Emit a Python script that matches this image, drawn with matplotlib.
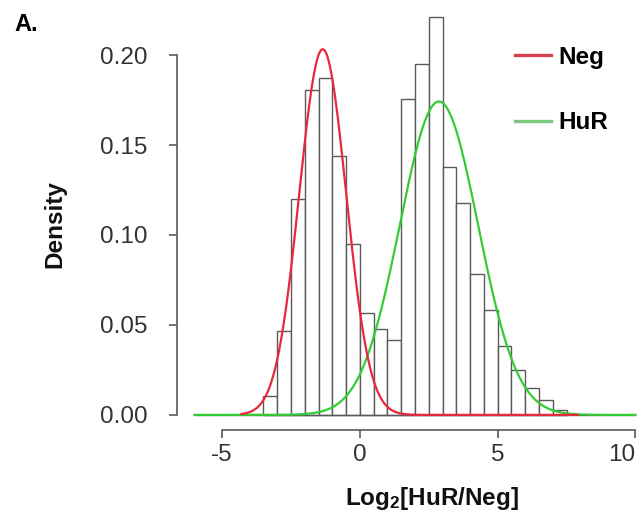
import numpy as np
import matplotlib
matplotlib.use("Agg")
import matplotlib.pyplot as plt
from matplotlib.lines import Line2D

plt.rcParams['font.family'] = ['Liberation Sans', 'DejaVu Sans']
plt.rcParams['mathtext.fontset'] = 'custom'
plt.rcParams['mathtext.rm'] = 'Liberation Sans'
plt.rcParams['mathtext.bf'] = 'Liberation Sans:bold'
plt.rcParams['mathtext.default'] = 'bf'

# histogram of log2 ratios (density, bin width 0.5)
bin_left = [-3.5, -3.0, -2.5, -2.0, -1.5, -1.0, -0.5, 0.0, 0.5, 1.0, 1.5,
            2.0, 2.5, 3.0, 3.5, 4.0, 4.5, 5.0, 5.5, 6.0, 6.5, 7.0]
density = [0.0103, 0.0466, 0.1202, 0.1808, 0.1875, 0.1441, 0.0951, 0.0565,
           0.0477, 0.0419, 0.1758, 0.1948, 0.2214, 0.1376, 0.1176, 0.0783,
           0.0583, 0.0382, 0.0252, 0.0149, 0.0084, 0.0028]
bin_width = 0.5

# fitted normal components: weight, mean, sd
groups = ["Neg", "HuR"]
weights = [0.433, 0.62]
means = [-1.35, 2.87]
sds = [0.85, 1.42]
colors = ["#e8283c", "#33cc33"]
legend_colors = ["#d9434f", "#7cc87c"]
curve_ranges = [(-4.3, 7.9), (-6.0, 10.0)]

fig = plt.figure(figsize=(6.42, 5.21), dpi=100)
ax = fig.add_axes([177 / 642, 91 / 521, 476 / 642, 430 / 521])

ax.bar(bin_left, density, width=bin_width, align="edge",
       facecolor="white", edgecolor="#5a5a5a", linewidth=1.0, zorder=2)
ax.plot([-6, 10], [0, 0], color="#5a5a5a", lw=1.0, zorder=2)

# green first, red on top
for i in [1, 0]:
    xs = np.linspace(curve_ranges[i][0], curve_ranges[i][1], 400)
    ys = weights[i] / (sds[i] * np.sqrt(2 * np.pi)) * np.exp(-0.5 * ((xs - means[i]) / sds[i]) ** 2)
    ax.plot(xs, ys, color=colors[i], lw=1.6, zorder=3)

ax.set_xlim(-6.64, 10.64)
ax.set_ylim(-0.0084, 0.2306)

for s in ["top", "right"]:
    ax.spines[s].set_visible(False)
ax.spines["left"].set_bounds(0, 0.2)
ax.spines["bottom"].set_bounds(-5, 10)
for s in ["left", "bottom"]:
    ax.spines[s].set_color("#5a5a5a")
    ax.spines[s].set_linewidth(1.2)

ax.set_xticks([-5, 0, 5, 10])
ax.set_xticklabels(["-5", "0", "5", "10"])
ax.set_yticks([0, 0.05, 0.10, 0.15, 0.20])
ax.set_yticklabels(["0.00", "0.05", "0.10", "0.15", "0.20"])
ax.tick_params(axis="both", colors="#5a5a5a", labelcolor="#333333",
               labelsize=17.5, length=6, width=1.2)
ax.tick_params(axis="y", pad=15)
ax.tick_params(axis="x", pad=4)
ax.get_xticklabels()[-1].set_horizontalalignment("right")

ax.set_ylabel("Density", fontsize=17.5, fontweight="bold", color="#111111")
ax.yaxis.set_label_coords(-0.232, 0.479)
ax.set_xlabel("Log$_2$[HuR/Neg]", fontsize=17.5, fontweight="bold", color="#111111")
ax.xaxis.set_label_coords(0.536, -0.128)

handles = [Line2D([], [], color=c, lw=2.4) for c in legend_colors]
leg = ax.legend(handles, groups, loc="upper left", bbox_to_anchor=(0.665, 0.945),
                frameon=False, handlelength=1.45, handletextpad=0.3,
                labelspacing=1.75, prop={"size": 17.5, "weight": "bold"})

fig.text(0.022, 0.975, "A.", fontsize=17, fontweight="bold", va="top", ha="left")

fig.savefig("out.png", dpi=100, facecolor="white")
